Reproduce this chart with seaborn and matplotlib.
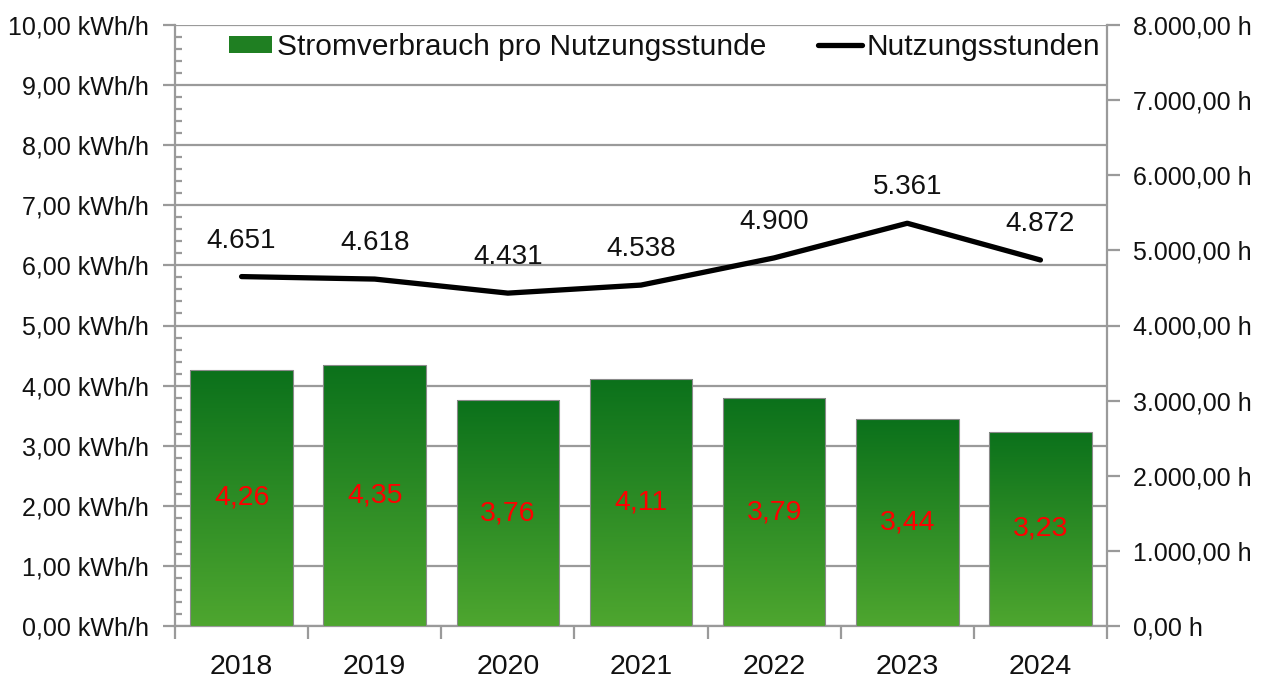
import numpy as np
import pandas as pd
import matplotlib
matplotlib.use("Agg")
import matplotlib.pyplot as plt
import seaborn as sns
from matplotlib.patches import Patch
from matplotlib.lines import Line2D
from matplotlib.ticker import MultipleLocator, FuncFormatter

years = ["2018", "2019", "2020", "2021", "2022", "2023", "2024"]
verbrauch = [4.26, 4.35, 3.76, 4.11, 3.79, 3.44, 3.23]
stunden = [4651, 4618, 4431, 4538, 4900, 5361, 4872]
bar_labels = ["4,26", "4,35", "3,76", "4,11", "3,79", "3,44", "3,23"]
line_labels = ["4.651", "4.618", "4.431", "4.538", "4.900", "5.361", "4.872"]

df = pd.DataFrame({"Jahr": years, "Verbrauch": verbrauch, "Stunden": stunden})

sns.set_theme(style="white")
plt.rcParams["font.family"] = ["Liberation Sans", "DejaVu Sans"]

W, H = 1268, 678
fig = plt.figure(figsize=(W / 100, H / 100), dpi=100)
ax = fig.add_axes([175 / W, 1 - 626 / H, (1107 - 175) / W, (626 - 25) / H])

GRID = "#9a9a9a"
FS = 18
TXT = "#111111"

sns.barplot(data=df, x="Jahr", y="Verbrauch", ax=ax, width=0.77,
            color="#2e8a25", edgecolor="#8a8a8a", linewidth=0.8, zorder=3)

# gradient fill for bars
cmap = matplotlib.colors.LinearSegmentedColormap.from_list("g", ["#4ea62f", "#0b711b"])
grad = np.linspace(0, 1, 256).reshape(-1, 1)
for p in ax.patches:
    x0, y0 = p.get_x(), p.get_y()
    w, h = p.get_width(), p.get_height()
    im = ax.imshow(grad, cmap=cmap, origin="lower", aspect="auto",
                   extent=[x0, x0 + w, y0, y0 + h], zorder=3.1)
    im.set_clip_path(p)
    p.set_facecolor("none")
    p.set_zorder(3.2)
ax.set_xlim(-0.5, 6.5)
ax.set_ylim(0, 10)

for i, (v, lab) in enumerate(zip(verbrauch, bar_labels)):
    ax.text(i, v / 2, lab, color="#ff0000", ha="center", va="center",
            fontsize=20.5, zorder=5)

# left axis styling
ax.yaxis.set_major_locator(MultipleLocator(1))
ax.yaxis.set_minor_locator(MultipleLocator(0.2))
ax.yaxis.set_major_formatter(FuncFormatter(lambda v, p: f"{v:.2f}".replace(".", ",") + " kWh/h"))
ax.grid(axis="y", which="major", color=GRID, linewidth=1.6, zorder=0)
ax.set_axisbelow(True)
ax.tick_params(axis="y", which="major", direction="out", length=9, width=1.6,
               color=GRID, labelsize=FS, pad=10, labelcolor=TXT)
ax.tick_params(axis="y", which="minor", direction="in", length=5, width=1.6,
               color=GRID, left=True)
ax.set_ylabel("")
ax.set_xlabel("")

# x axis: ticks at boundaries, labels at centers
ax.set_xticks(np.arange(7))
ax.set_xticklabels(years)
ax.set_xticks(np.arange(-0.5, 7.0, 1.0), minor=True)
ax.tick_params(axis="x", which="major", length=0, labelsize=20.5, pad=20, labelcolor=TXT)
ax.tick_params(axis="x", which="minor", direction="out", length=9, width=1.6,
               color=GRID, bottom=True)

for s in ["top", "right"]:
    ax.spines[s].set_visible(False)
for s in ["left", "bottom"]:
    ax.spines[s].set_color(GRID)
    ax.spines[s].set_linewidth(1.6)

# right axis with line
ax2 = ax.twinx()
sns.lineplot(x=np.arange(7), y=stunden, ax=ax2, color="black", linewidth=3.8,
             zorder=6, legend=False)
ax2.set_ylim(0, 8000)
ax2.set_xlim(-0.5, 6.5)
ax2.yaxis.set_major_locator(MultipleLocator(1000))
ax2.yaxis.set_major_formatter(FuncFormatter(
    lambda v, p: f"{v:,.2f}".replace(",", "X").replace(".", ",").replace("X", ".") + " h"))
ax2.tick_params(axis="y", which="major", direction="out", length=9, width=1.6,
                color=GRID, labelsize=FS, pad=10, labelcolor=TXT)
ax2.grid(False)
for s in ["top", "left", "bottom"]:
    ax2.spines[s].set_visible(False)
ax2.spines["right"].set_color(GRID)
ax2.spines["right"].set_linewidth(1.6)
ax2.set_ylabel("")

for i, (v, lab) in enumerate(zip(stunden, line_labels)):
    ax2.annotate(lab, (i, v), xytext=(0, 36), textcoords="offset pixels",
                 ha="center", va="center", fontsize=20, color=TXT, zorder=7)

handles = [Patch(facecolor="#1f7f22", edgecolor="none"),
           Line2D([0], [0], color="black", linewidth=3.8)]
leg = ax2.legend(handles, ["Stromverbrauch pro Nutzungsstunde", "Nutzungsstunden"],
                 loc="upper center", bbox_to_anchor=(0.525, 1.012), ncol=2, frameon=False,
                 fontsize=21.5, handlelength=1.45, handleheight=0.5, handletextpad=0.15,
                 columnspacing=1.75, borderaxespad=0.1)
for t in leg.get_texts():
    t.set_color(TXT)

fig.savefig("out.png", dpi=100)
